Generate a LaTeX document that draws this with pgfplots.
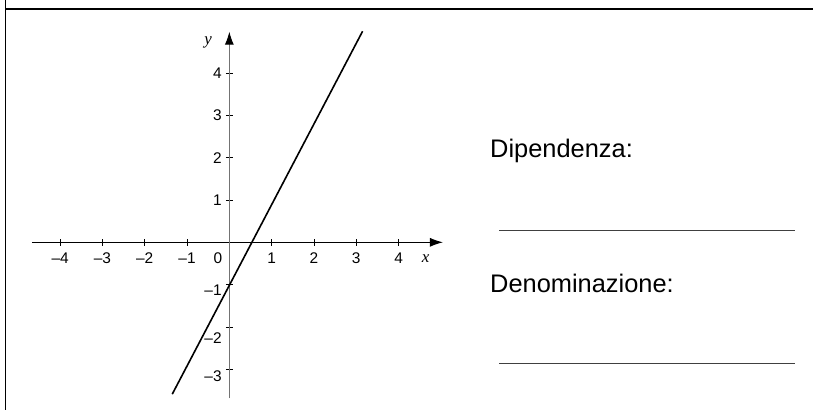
\documentclass[border=0pt]{standalone}
\usepackage{fontspec}
\setmainfont{Liberation Sans}
\newfontfamily\seriffont{Liberation Serif}
\usepackage{pgfplots}
\pgfplotsset{compat=1.18}
\usetikzlibrary{arrows.meta}
\newcommand{\yl}[2]{\raisebox{-#1}[11bp][0bp]{#2}}
\begin{document}
\begin{tikzpicture}[x=1bp,y=1bp]
\path[use as bounding box] (0,0) rectangle (813,-410);
\draw[line width=1.3bp] (5.5,0) -- (5.5,-410);
\draw[line width=1.3bp] (5.5,-9) -- (813,-9);
\begin{axis}[
  anchor=south west, at={(31.8bp,-398.4bp)},
  x=42.3bp, y=42.3bp,
  xmin=-4.67, xmax=5.05, ymin=-3.69, ymax=4.98,
  axis lines=middle,
  x axis line style={black, line width=1bp, -{Latex[length=13bp,width=9bp]}},
  y axis line style={black!55, line width=1bp, -{Latex[length=13bp,width=9bp,black]}},
  xtick={-4,-3,-2,-1,1,2,3,4},
  xticklabels={\textendash4,\textendash3,\textendash2,\textendash1,1,2,3,4},
  ytick={-3,-2,-1,1,2,3,4},
  yticklabels={\yl{6.7bp}{\textendash3},\yl{10.7bp}{\textendash2},\yl{5bp}{\textendash1},1,2,3,4},
  tick style={black, line width=0.8bp},
  major tick length=7bp,
  tick align=center,
  xticklabel style={font=\fontsize{15.5}{15.5}\selectfont, anchor=north, inner sep=0pt, yshift=-6.5bp},
  yticklabel style={font=\fontsize{15.5}{15.5}\selectfont, anchor=east, inner sep=0pt, xshift=-4bp},
  clip=false,
]
\addplot[black, line width=1.6bp] coordinates {(-1.35,-3.59) (3.15,4.99)};
\node[font=\seriffont\itshape\fontsize{17}{17}\selectfont, inner sep=0pt] at (axis cs:4.64,-0.38) {x};
\node[font=\seriffont\itshape\fontsize{17}{17}\selectfont, inner sep=0pt] at (axis cs:-0.5,4.73) {y};
\node[font=\fontsize{15.5}{15.5}\selectfont, inner sep=0pt] at (axis cs:-0.27,-0.38) {0};
\end{axis}
\node[anchor=base west, inner sep=0pt, font=\fontsize{25.5}{25.5}\selectfont] at (490,-157.3) {Dipendenza:};
\node[anchor=base west, inner sep=0pt, font=\fontsize{25.5}{25.5}\selectfont] at (490,-292.3) {Denominazione:};
\draw[black!75, line width=0.8bp] (499,-230) -- (795,-230);
\draw[black!75, line width=0.8bp] (499,-363) -- (795,-363);
\end{tikzpicture}
\end{document}
